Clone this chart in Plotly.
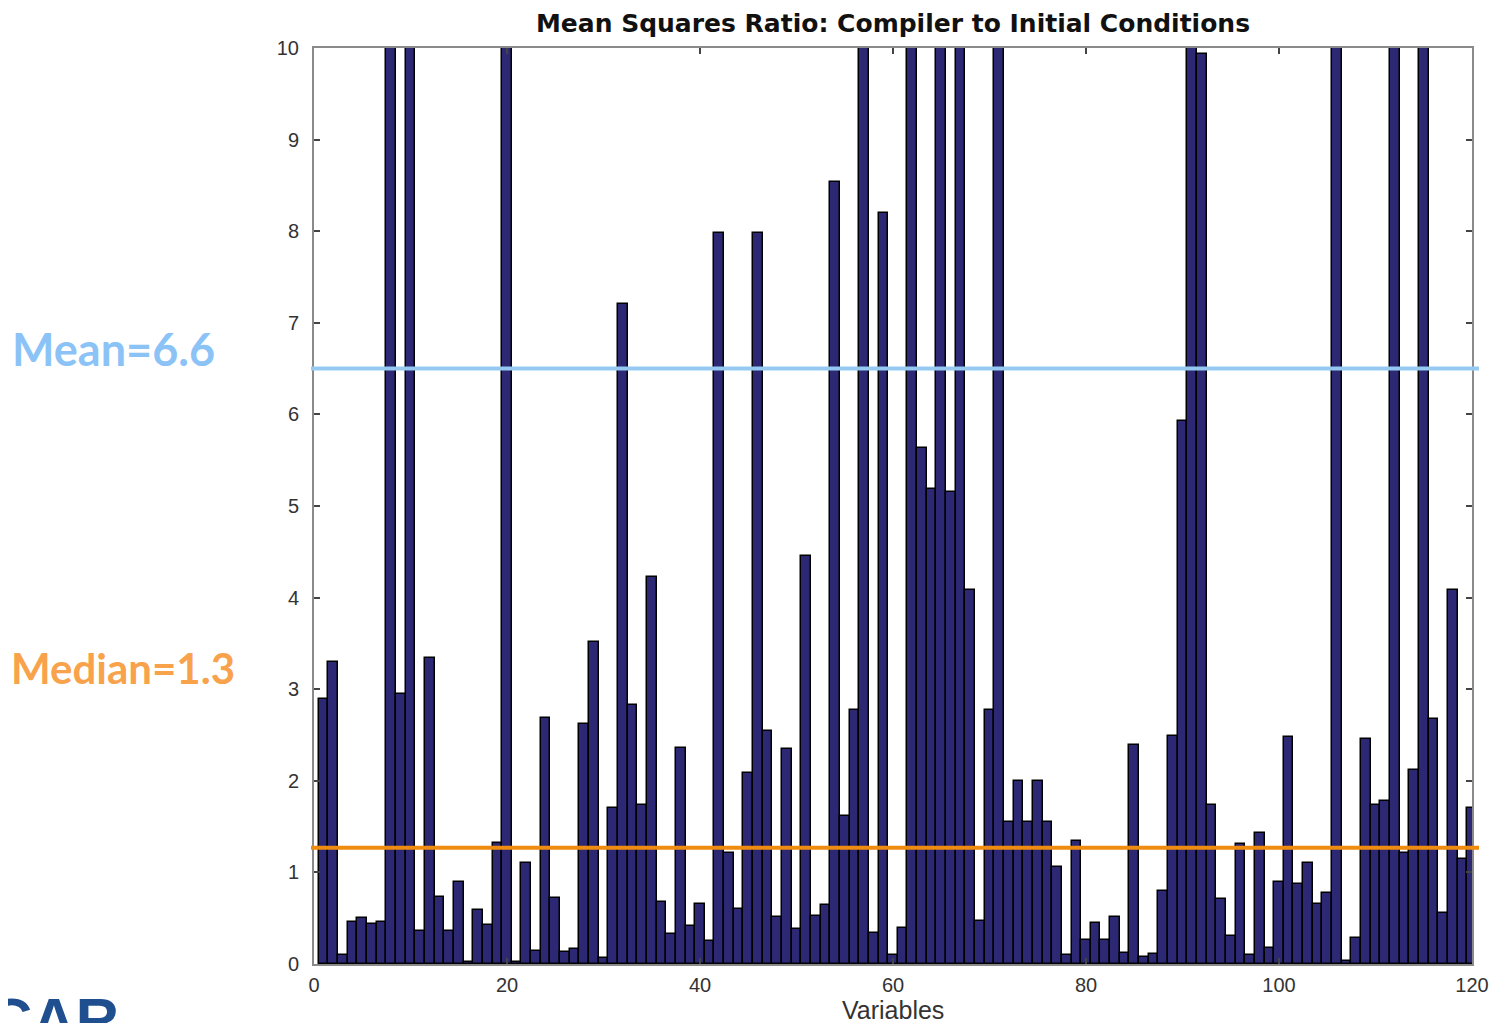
import plotly.graph_objects as go

# Variable index 1..120
variables = list(range(1, 121))
# Mean squares ratio per variable (bars above 10 are clipped by the axis)
ratios = [
    2.89, 3.30, 0.10, 0.46, 0.50, 0.44, 0.46, 35.0, 2.95, 62.0,
    0.36, 3.34, 0.73, 0.36, 0.89, 0.02, 0.59, 0.43, 1.32, 48.0,
    0.02, 1.10, 0.14, 2.69, 0.72, 0.13, 0.16, 2.62, 3.51, 0.07,
    1.70, 7.20, 2.83, 1.74, 4.23, 0.68, 0.33, 2.36, 0.42, 0.66,
    0.25, 7.98, 1.21, 0.60, 2.09, 7.98, 2.54, 0.51, 2.35, 0.38,
    4.45, 0.52, 0.64, 8.54, 1.62, 2.77, 27.0, 0.34, 8.20, 0.10,
    0.39, 81.0, 5.63, 5.19, 44.0, 5.15, 39.0, 4.08, 0.47, 2.77,
    70.0, 1.55, 2.00, 1.55, 2.00, 1.55, 1.06, 0.10, 1.34, 0.26,
    0.45, 0.26, 0.51, 0.12, 2.39, 0.08, 0.11, 0.80, 2.49, 5.93,
    53.0, 9.93, 1.74, 0.71, 0.31, 1.31, 0.10, 1.43, 0.18, 0.89,
    2.48, 0.87, 1.10, 0.66, 0.77, 31.0, 0.03, 0.28, 2.46, 1.74,
    1.78, 66.0, 1.21, 2.12, 40.0, 2.67, 0.56, 4.08, 1.15, 1.70,
]
x_ticks = [0, 20, 40, 60, 80, 100, 120]
y_ticks = [0, 1, 2, 3, 4, 5, 6, 7, 8, 9, 10]
mean_level = 6.5
median_level = 1.27
mean_label = "Mean=6.6"
median_label = "Median=1.3"
x_title = "Variables"
chart_title = "Mean Squares Ratio: Compiler to Initial Conditions"

# page offset (body margin) and plot box in figure pixels
OFF = 7
W, H = 1500, 1023
ML, MR, MT, MB = 313 - OFF, W - 1471 + OFF, 47 - OFF, H - 963 + OFF
PW = W - ML - MR
PH = H - MT - MB


def px_x(sx):
    return (sx - OFF - ML) / PW


def px_y(sy):
    return (H - MB - (sy - OFF)) / PH


fig = go.Figure()
fig.add_trace(go.Bar(
    x=variables, y=ratios, width=1.0,
    marker=dict(color="#2d2874", line=dict(color="#000000", width=1.5)),
    showlegend=False,
))

axis_common = dict(
    showgrid=False, zeroline=False, showline=True, linecolor="#8a8a8a", linewidth=2,
    mirror="ticks", ticks="inside", ticklen=6, tickcolor="#444444", tickwidth=1.5,
    tickfont=dict(family="Liberation Sans", size=20, color="#333333"),
)
fig.update_xaxes(range=[0, 120], tickvals=x_ticks, **axis_common, ticklabelstandoff=2)
fig.update_yaxes(range=[0, 10], tickvals=y_ticks, **axis_common, ticklabelstandoff=9)

fig.add_shape(type="line", xref="paper", yref="y", x0=px_x(310), x1=px_x(1478), y0=mean_level, y1=mean_level,
              line=dict(color="#95c9f2", width=4))
fig.add_shape(type="line", xref="paper", yref="y", x0=px_x(310), x1=px_x(1478), y0=median_level, y1=median_level,
              line=dict(color="#ef8c10", width=4))

fig.add_annotation(xref="paper", yref="paper", x=px_x(892), y=px_y(1009), text=x_title,
                   showarrow=False, xanchor="center", yanchor="middle",
                   font=dict(family="Liberation Sans", size=25, color="#333333"))
fig.add_annotation(xref="paper", yref="paper", x=px_x(9), y=px_y(348), text="<b>" + mean_label + "</b>",
                   showarrow=False, xanchor="left", yanchor="middle",
                   font=dict(family="Lato", size=45, color="#8cc3f7"))
fig.add_annotation(xref="paper", yref="paper", x=px_x(8), y=px_y(667), text="<b>" + median_label + "</b>",
                   showarrow=False, xanchor="left", yanchor="middle",
                   font=dict(family="Lato", size=42, color="#f8a24c"))
fig.add_annotation(xref="paper", yref="paper", x=px_x(-14), y=px_y(983), text="<b>CAR</b>",
                   showarrow=False, xanchor="left", yanchor="top",
                   font=dict(family="Liberation Sans", size=60, color="#1f4f8f"))

fig.update_layout(
    width=W, height=H,
    margin=dict(l=ML, r=MR, t=MT, b=MB),
    paper_bgcolor="white", plot_bgcolor="white",
    title=dict(text="<b>" + chart_title + "</b>",
               x=(892 - OFF) / W, xanchor="center", y=1 - (22 - OFF) / H, yanchor="middle",
               font=dict(family="DejaVu Sans", size=25, color="#111111")),
    bargap=0,
)

fig.write_html("out.html")
